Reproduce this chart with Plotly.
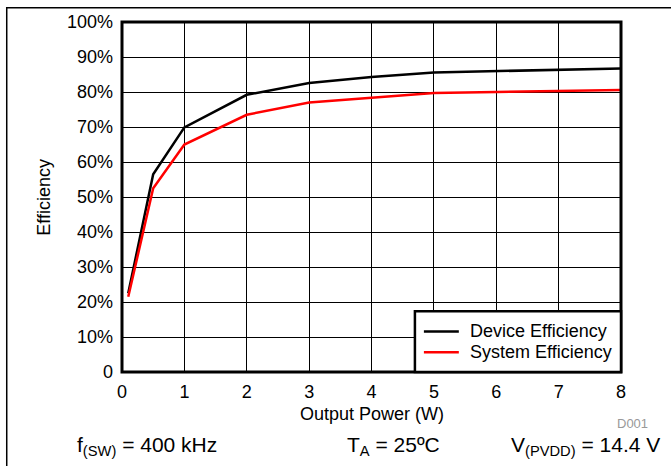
import plotly.graph_objects as go

power_w = [0.1, 0.5, 1, 2, 3, 4, 5, 6, 7, 8]
device_eff = [0.225, 0.565, 0.699, 0.792, 0.826, 0.843, 0.856, 0.860, 0.863, 0.867]
system_eff = [0.215, 0.525, 0.650, 0.735, 0.770, 0.783, 0.797, 0.800, 0.803, 0.806]

series_names = ["Device Efficiency", "System Efficiency"]
series_colors = ["black", "#ff0000"]

x_ticks = [0, 1, 2, 3, 4, 5, 6, 7, 8]
y_ticks = [0, 0.1, 0.2, 0.3, 0.4, 0.5, 0.6, 0.7, 0.8, 0.9, 1.0]
y_ticktext = ["0", "10%", "20%", "30%", "40%", "50%", "60%", "70%", "80%", "90%", "100%"]

FONT = "Liberation Sans, Arial, sans-serif"

fig = go.Figure()
for name, ys, col in zip(series_names, [device_eff, system_eff], series_colors):
    fig.add_trace(go.Scatter(x=power_w, y=ys, mode="lines", name=name,
                             line=dict(color=col, width=2.5), showlegend=False))

L, R, T, B = 121.5, 49.5, 18.5, 93.5
W = 671 - L - R
H = 466 - T - B

def px(xp):
    return (xp - L) / W

def py(yp):
    return (466 - B - yp) / H

fig.update_layout(
    width=671, height=466,
    margin=dict(l=L, r=R, t=T, b=B, pad=0),
    paper_bgcolor="white", plot_bgcolor="white",
    font=dict(family=FONT, size=18, color="black"),
    showlegend=False,
    xaxis=dict(range=[0, 8], tickvals=x_ticks, showgrid=True, gridcolor="black", gridwidth=1,
               zeroline=False, showline=False, ticks="", ticklabelstandoff=7,
               tickfont=dict(size=18)),
    yaxis=dict(range=[0, 1], tickvals=y_ticks, ticktext=y_ticktext, showgrid=True,
               gridcolor="black", gridwidth=1, zeroline=False, showline=False, ticks="",
               ticklabelstandoff=8, tickfont=dict(size=18)),
)

# thick plot frame
fig.add_shape(type="rect", xref="paper", yref="paper", x0=0, x1=1, y0=0, y1=1,
              line=dict(color="black", width=3), layer="above")
# outer frame (extends past the canvas at right and bottom)
fig.add_shape(type="rect", xref="paper", yref="paper", x0=px(6), x1=px(700), y0=py(480), y1=py(4),
              line=dict(color="black", width=1.5), layer="above")

# legend box (drawn manually to match compact spacing)
fig.add_shape(type="rect", xref="paper", yref="paper", x0=px(415), x1=1, y0=0, y1=py(311),
              line=dict(color="black", width=2.5), fillcolor="white", layer="above")
leg_rows = [331.5, 352.5]
for name, col, yy in zip(series_names, series_colors, leg_rows):
    fig.add_shape(type="line", xref="paper", yref="paper", x0=px(424), x1=px(459),
                  y0=py(yy), y1=py(yy), line=dict(color=col, width=2.5), layer="above")
    fig.add_annotation(xref="paper", yref="paper", showarrow=False, text=name,
                       x=px(468), y=py(yy), xanchor="left", yanchor="middle",
                       font=dict(size=18))

ann = [
    dict(text="Output Power (W)", x=0.5, y=py(415), xanchor="center", yanchor="middle", font=dict(size=18)),
    dict(text="Efficiency", x=px(43), y=0.5, xanchor="center", yanchor="middle", textangle=-90, font=dict(size=18)),
    dict(text="D001", x=px(633), y=py(425), xanchor="center", yanchor="middle", font=dict(size=13, color="#999999")),
    dict(text="f<sub>(SW)</sub> = 400 kHz", x=px(74), y=py(447), xanchor="left", yanchor="middle", font=dict(size=21)),
    dict(text="T<sub>A</sub> = 25ºC", x=px(345), y=py(447), xanchor="left", yanchor="middle", font=dict(size=21)),
    dict(text="V<sub>(PVDD)</sub> = 14.4 V", x=px(663), y=py(447), xanchor="right", yanchor="middle", font=dict(size=21)),
]
for a in ann:
    fig.add_annotation(xref="paper", yref="paper", showarrow=False, **a)

fig.write_html("out.html")
